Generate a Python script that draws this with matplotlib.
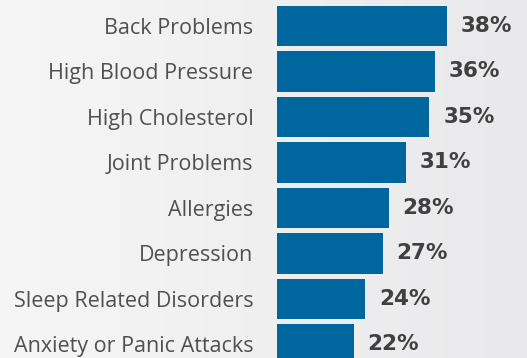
import numpy as np
import matplotlib
matplotlib.use("Agg")
import matplotlib.pyplot as plt
from matplotlib.colors import LinearSegmentedColormap

categories = ["Back Problems", "High Blood Pressure", "High Cholesterol",
              "Joint Problems", "Allergies", "Depression",
              "Sleep Related Disorders", "Anxiety or Panic Attacks"]
values = [38, 36, 35, 31, 28, 27, 24, 22]
value_labels = ["38%", "36%", "35%", "31%", "28%", "27%", "24%", "22%"]

W, H = 527, 358
fig = plt.figure(figsize=(W / 100, H / 100), dpi=100)

# background gradient
bg = fig.add_axes([0, 0, 1, 1], zorder=0)
grad = np.linspace(0, 1, 256)[None, :]
cmap = LinearSegmentedColormap.from_list("bg", ["#f6f6f6", "#e9e9eb"])
bg.imshow(grad, aspect="auto", cmap=cmap, extent=[0, 1, 0, 1])
bg.axis("off")

x0 = 277
ax = fig.add_axes([x0 / W, 0, (W - x0) / W, 1], zorder=1)
ax.patch.set_alpha(0)
y = np.arange(len(categories))
ax.barh(y, values, height=0.88, color="#00669e")
ax.set_xlim(8.75, 8.75 + (W - x0) / 5.8)
ax.set_ylim(7.297, -0.571)
ax.set_yticks(y)
ax.set_yticklabels(categories, fontsize=15.5, color="#505050", family="Open Sans")
ax.tick_params(axis="y", length=0, pad=17)
ax.set_xticks([])
for s in ax.spines.values():
    s.set_visible(False)

for yi, v, lab in zip(y, values, value_labels):
    ax.annotate(lab, (v, yi), xytext=(10, 0), textcoords="offset points",
                va="center", ha="left", fontsize=15.5, fontweight="bold",
                color="#404040", family="DejaVu Sans")

fig.savefig("out.png", dpi=100)
